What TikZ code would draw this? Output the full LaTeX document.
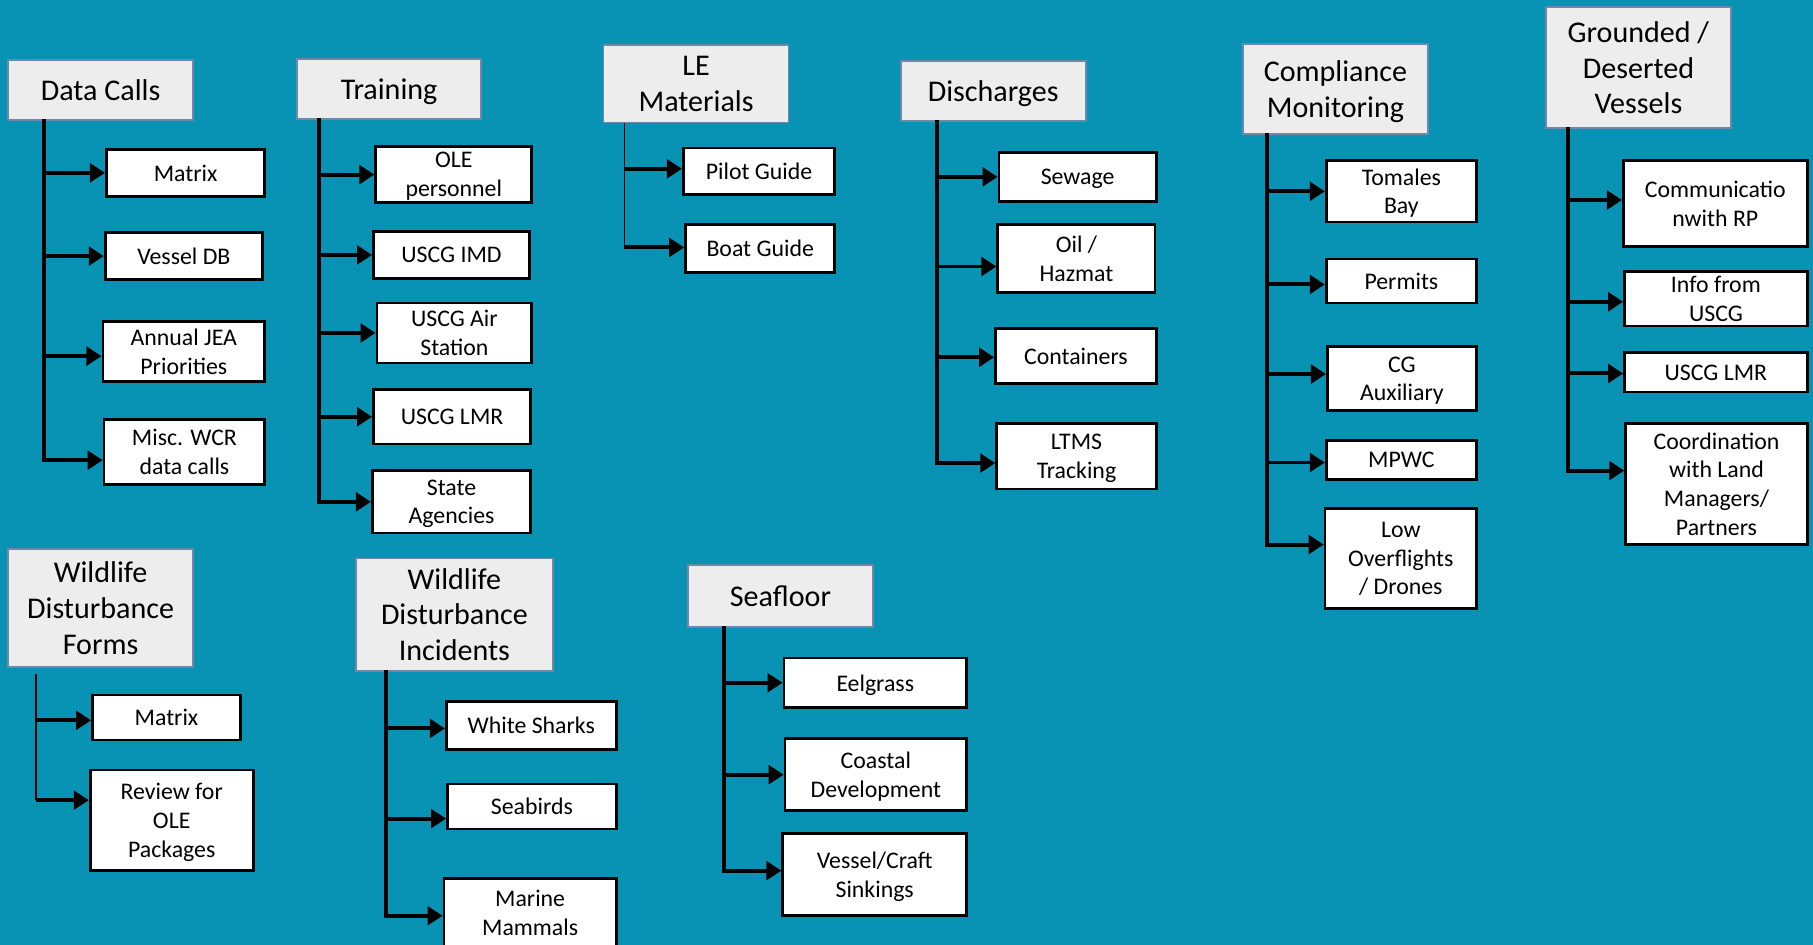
\documentclass[tikz,border=0pt]{standalone}
\usepackage{fontspec}
\setmainfont{Carlito}
\usetikzlibrary{arrows.meta}
\definecolor{bg}{HTML}{0892B4}
\definecolor{hdrfill}{HTML}{EDEDED}
\definecolor{hdrline}{HTML}{6F87AA}
\tikzset{
  hdr/.style={draw=hdrline, line width=0.8pt, fill=hdrfill, align=center, inner sep=0pt,
    font=\fontsize{13}{15.5}\selectfont, text=black, text depth=0pt},
  kid/.style={draw=black, line width=1.2pt, fill=white, align=center, inner sep=0pt,
    font=\fontsize{10.3}{12.4}\selectfont, text depth=0pt},
  brarrow/.style={line width=1.7pt, -{Triangle[length=6.5pt,width=8pt]}},
  trunkline/.style={line width=1.7pt, line cap=rect},
  thintrunk/.style={line width=0.6pt}
}
% box: name, style, x1, y1, x2, y2, text
\newcommand{\bx}[7]{\node[#2, minimum width={(#5-#3)*0.5pt}, minimum height={(#6-#4)*0.5pt}] (#1) at ({(#3+#5)/2},{(#4+#6)/2}) {#7};}
% branch: trunk coordinate, child, vertical offset (display px, down positive)
\newcommand{\brn}[3]{\draw[brarrow] ([yshift={-(#3)*0.5pt}]#2.west -| #1) -- ([yshift={-(#3)*0.5pt}]#2.west);}
\begin{document}
\begin{tikzpicture}[x=0.5pt,y=-0.5pt]
\useasboundingbox (0,0) rectangle (1568,817);
\clip (0,0) rectangle (1568,817);
\fill[bg] (0,0) rectangle (1568,817);

% ---------- Data Calls ----------
\bx{h1}{hdr}{7}{52}{167}{104}{Data Calls}
\bx{a1}{kid}{92}{129}{229}{170}{Matrix}
\bx{a2}{kid}{91}{201}{227}{242}{Vessel DB}
\bx{a3}{kid}{89}{278}{229}{330}{Annual JEA\\Priorities}
\bx{a4}{kid}{90}{363}{229}{419}{Misc. WCR\\data calls}
\coordinate (T1) at (38,0);
\draw[trunkline] (h1.south -| T1) -- ([yshift=-3.5pt]a4.west -| T1);
\brn{T1}{a1}{0}
\brn{T1}{a2}{0}
\brn{T1}{a3}{4}
\brn{T1}{a4}{7}

% ---------- Training ----------
\bx{h2}{hdr}{257}{51}{416}{103}{Training}
\bx{b1}{kid}{325}{127}{460}{175}{OLE\\personnel}
\bx{b2}{kid}{323}{200}{458}{241}{USCG IMD}
\bx{b3}{kid}{326}{262}{460}{314}{USCG Air\\Station}
\bx{b4}{kid}{323}{337}{459}{384}{USCG LMR}
\bx{b5}{kid}{322}{407}{459}{461}{State\\Agencies}
\coordinate (T2) at (276,0);
\draw[trunkline] (h2.south -| T2) -- (b5.west -| T2);
\brn{T2}{b1}{0}
\brn{T2}{b2}{0}
\brn{T2}{b3}{0}
\brn{T2}{b4}{0}
\brn{T2}{b5}{0}

% ---------- LE Materials ----------
\bx{h3}{hdr}{522}{39}{682}{106}{LE\\Materials}
\bx{c1}{kid}{591}{128}{722}{168}{Pilot Guide}
\bx{c2}{kid}{593}{194}{722}{236}{Boat Guide}
\coordinate (T3) at (540,0);
\draw[thintrunk] (h3.south -| T3) -- ([yshift=0.5pt]c2.west -| T3);
\brn{T3}{c1}{-2}
\brn{T3}{c2}{-1}

% ---------- Discharges ----------
\bx{h4}{hdr}{779}{53}{939}{105}{Discharges}
\bx{d1}{kid}{864}{132}{1000}{174}{Sewage}
\bx{d2}{kid}{863}{194}{999}{253}{Oil /\\Hazmat}
\bx{d3}{kid}{861}{284}{1000}{332}{Containers}
\bx{d4}{kid}{862}{366}{1000}{423}{LTMS\\Tracking}
\coordinate (T4) at (810,0);
\draw[trunkline] (h4.south -| T4) -- ([yshift=-3pt]d4.west -| T4);
\brn{T4}{d1}{0}
\brn{T4}{d2}{7}
\brn{T4}{d3}{1}
\brn{T4}{d4}{6}

% ---------- Compliance Monitoring ----------
\bx{h5}{hdr}{1075}{38}{1235}{116}{Compliance\\Monitoring}
\bx{e1}{kid}{1147}{139}{1277}{192}{Tomales\\Bay}
\bx{e2}{kid}{1147}{224}{1277}{262}{Permits}
\bx{e3}{kid}{1148}{300}{1277}{355}{CG\\Auxiliary}
\bx{e4}{kid}{1147}{381}{1277}{415}{MPWC}
\bx{e5}{kid}{1146}{440}{1277}{526}{Low\\Overflights\\/ Drones}
\coordinate (T5) at (1096,0);
\draw[trunkline] (h5.south -| T5) -- ([yshift=6pt]e5.west -| T5);
\brn{T5}{e1}{0}
\brn{T5}{e2}{3}
\brn{T5}{e3}{-4}
\brn{T5}{e4}{2}
\brn{T5}{e5}{-12}

% ---------- Grounded / Deserted Vessels ----------
\bx{h6}{hdr}{1337}{6}{1497}{111}{Grounded /\\Deserted\\Vessels}
\bx{f1}{kid}{1404}{139}{1563}{213}{Communicatio\\nwith RP}
\bx{f2}{kid}{1405}{235}{1563}{282}{Info from\\USCG}
\bx{f3}{kid}{1405}{305}{1563}{339}{USCG LMR}
\bx{f4}{kid}{1406}{366}{1563}{471}{Coordination\\with Land\\Managers/\\Partners}
\coordinate (T6) at (1356,0);
\draw[trunkline] (h6.south -| T6) -- ([yshift=5.75pt]f4.west -| T6);
\brn{T6}{f1}{-3}
\brn{T6}{f2}{2.5}
\brn{T6}{f3}{1}
\brn{T6}{f4}{-11.5}

% ---------- Wildlife Disturbance Forms ----------
\bx{h7}{hdr}{7}{475}{167}{577}{Wildlife\\Disturbance\\Forms}
\bx{g1}{kid}{80}{601}{208}{640}{Matrix}
\bx{g2}{kid}{78}{666}{219}{753}{Review for\\OLE\\Packages}
\coordinate (T7) at (31,0);
\draw[thintrunk] ([yshift=-2.5pt]h7.south -| T7) -- ([yshift=9pt]g2.west -| T7);
\brn{T7}{g1}{2.5}
\brn{T7}{g2}{-17.5}

% ---------- Wildlife Disturbance Incidents ----------
\bx{h8}{hdr}{308}{483}{478}{580}{Wildlife\\Disturbance\\Incidents}
\bx{i1}{kid}{386}{607}{533}{648}{White Sharks}
\bx{i2}{kid}{387}{678}{533}{717}{Seabirds}
\bx{i3}{kid}{384}{760}{533}{819}{Marine\\Mammals}
\coordinate (T8) at (334,0);
\draw[trunkline] (h8.south -| T8) -- ([yshift=-1.25pt]i3.west -| T8);
\brn{T8}{i1}{2.5}
\brn{T8}{i2}{10.5}
\brn{T8}{i3}{2.5}

% ---------- Seafloor ----------
\bx{h9}{hdr}{595}{489}{755}{542}{Seafloor}
\bx{s1}{kid}{678}{569}{836}{612}{Eelgrass}
\bx{s2}{kid}{679}{639}{836}{701}{Coastal\\Development}
\bx{s3}{kid}{677}{721}{836}{792}{Vessel/Craft\\Sinkings}
\coordinate (T9) at (626,0);
\draw[trunkline] (h9.south -| T9) -- ([yshift=1.75pt]s3.west -| T9);
\brn{T9}{s1}{0}
\brn{T9}{s2}{0}
\brn{T9}{s3}{-3.5}
\end{tikzpicture}
\end{document}
